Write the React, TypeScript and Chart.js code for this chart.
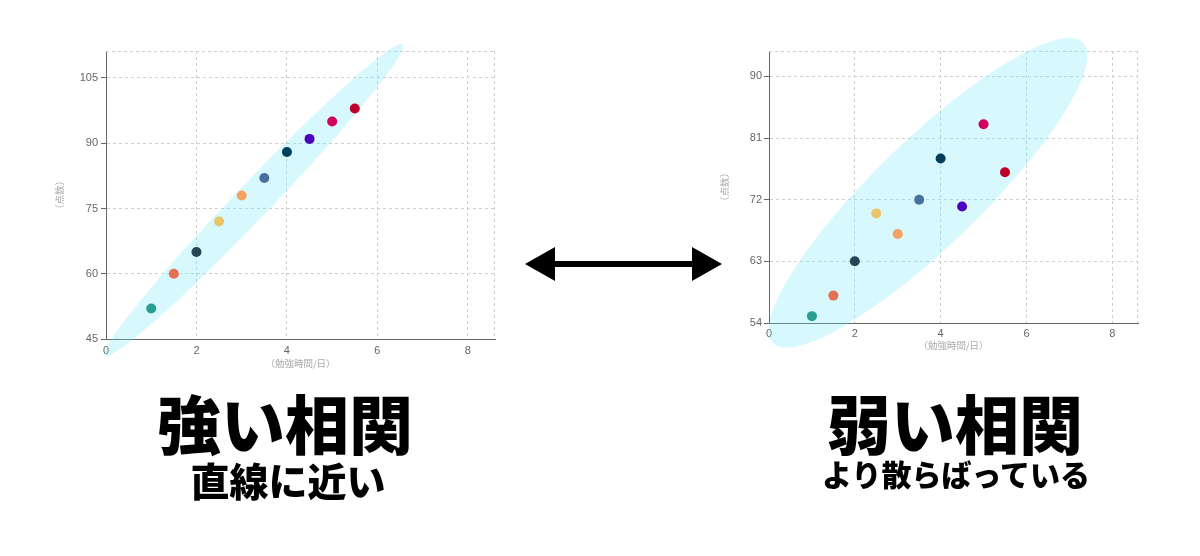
import { useEffect, useRef } from "react"
import { Chart, registerables } from "chart.js"

Chart.register(...registerables)

const hours = [1, 1.5, 2, 2.5, 3, 3.5, 4, 4.5, 5, 5.5]
const strongScores = [52, 60, 65, 72, 78, 82, 88, 91, 95, 98]
const weakScores = [55, 58, 63, 70, 67, 72, 78, 71, 83, 76]
const pointColors = [
  "#2a9d8f",
  "#e76f51",
  "#264653",
  "#e9c46a",
  "#f4a261",
  "#4a70a0",
  "#003f5c",
  "#4c00c0",
  "#d0005e",
  "#bc0028",
]
const hourTicks = [0, 2, 4, 6, 8]
const strongScoreTicks = [45, 60, 75, 90, 105]
const weakScoreTicks = [54, 63, 72, 81, 90]

// ends of the shaded ellipse, in data units (hours, score)
const strongBand = { from: [-0.02, 41.2], to: [6.56, 112.7] }
const weakBand = { from: [0.09, 51.1], to: [7.32, 94.9] }

const CJK = '"Noto Sans CJK JP", "Noto Sans", sans-serif'
const GRID = "#cfcfcf"

const bandPlugin = {
  id: "band",
  beforeDatasetsDraw(chart, _args, opts) {
    const { ctx, chartArea, scales } = chart
    const x = scales.x
    const y = scales.y

    // dashed top / right edge of the plot
    ctx.save()
    ctx.strokeStyle = GRID
    ctx.lineWidth = 1
    ctx.setLineDash([3, 3])
    ctx.beginPath()
    ctx.moveTo(chartArea.left, chartArea.top + 0.5)
    ctx.lineTo(chartArea.right, chartArea.top + 0.5)
    ctx.moveTo(chartArea.right - 0.5, chartArea.top)
    ctx.lineTo(chartArea.right - 0.5, chartArea.bottom)
    ctx.stroke()

    const band = opts.band
    const x1 = x.getPixelForValue(band.from[0])
    const y1 = y.getPixelForValue(band.from[1])
    const x2 = x.getPixelForValue(band.to[0])
    const y2 = y.getPixelForValue(band.to[1])
    const cx = (x1 + x2) / 2
    const cy = (y1 + y2) / 2
    const half = Math.hypot(x2 - x1, y2 - y1) / 2
    const angle = Math.atan2(y2 - y1, x2 - x1)
    ctx.setLineDash([])
    ctx.fillStyle = "rgba(110, 235, 250, 0.28)"
    ctx.beginPath()
    ctx.ellipse(cx, cy, half, opts.halfWidth, angle, 0, Math.PI * 2)
    ctx.fill()
    ctx.restore()
  },
}

function ScatterPanel({ scores, yTicks, yMin, yMax, band, halfWidth, box, yAxisWidth, xAxisHeight, xLabelPad, yLabelPad }) {
  const chartRef = useRef(null)
  const chartInstance = useRef(null)

  useEffect(() => {
    if (chartRef.current) {
      if (chartInstance.current) {
        chartInstance.current.destroy()
      }
      const ctx = chartRef.current.getContext("2d")
      chartInstance.current = new Chart(ctx, {
        type: "scatter",
        data: {
          datasets: [
            {
              data: hours.map((h, i) => ({ x: h, y: scores[i] })),
              backgroundColor: pointColors,
              borderWidth: 0,
              pointRadius: 5,
              pointHoverRadius: 5,
            },
          ],
        },
        plugins: [bandPlugin],
        options: {
          animation: false,
          responsive: true,
          maintainAspectRatio: false,
          layout: { padding: { top: 22, right: 5, bottom: 8, left: 0 } },
          plugins: {
            legend: { display: false },
            tooltip: { enabled: false },
            band: { band, halfWidth },
          },
          scales: {
            x: {
              type: "linear",
              min: 0,
              max: 8.6,
              afterBuildTicks: (axis) => {
                axis.ticks = hourTicks.map((v) => ({ value: v }))
              },
              afterFit: (axis) => {
                axis.height = xAxisHeight
              },
              ticks: {
                padding: xLabelPad,
                color: "#666",
                font: { family: '"Liberation Sans", Arial, sans-serif', size: 11 },
              },
              grid: { color: GRID, drawTicks: false },
              border: { display: true, color: "#666", width: 1, dash: [3, 3] },
              title: {
                display: true,
                text: "（勉強時間/日）",
                color: "#aaa",
                padding: 0,
                font: { family: CJK, size: 9.5 },
              },
            },
            y: {
              type: "linear",
              min: yMin,
              max: yMax,
              afterBuildTicks: (axis) => {
                axis.ticks = yTicks.map((v) => ({ value: v }))
              },
              afterFit: (axis) => {
                axis.width = yAxisWidth
              },
              ticks: {
                padding: yLabelPad,
                color: "#666",
                font: { family: '"Liberation Sans", Arial, sans-serif', size: 11 },
              },
              grid: { color: GRID, tickLength: 5, tickColor: "#666" },
              border: { display: true, color: "#666", width: 1, dash: [3, 3] },
              title: {
                display: true,
                text: "（点数）",
                color: "#aaa",
                padding: 0,
                font: { family: CJK, size: 9.5 },
              },
            },
          },
        },
      })
    }

    return () => {
      if (chartInstance.current) {
        chartInstance.current.destroy()
      }
    }
  }, [scores, yTicks, yMin, yMax, band, halfWidth, yAxisWidth, xAxisHeight, xLabelPad, yLabelPad])

  return (
    <div style={{ position: "absolute", left: box.left, top: box.top, width: box.width, height: box.height }}>
      <canvas ref={chartRef} />
    </div>
  )
}

function Caption({ text, centerX, top, size }) {
  return (
    <div
      style={{
        position: "absolute",
        left: centerX - 250,
        top,
        width: 500,
        textAlign: "center",
        fontFamily: CJK,
        fontWeight: 900,
        fontSize: size,
        lineHeight: 1,
        color: "#000",
        whiteSpace: "nowrap",
      }}
    >
      {text}
    </div>
  )
}

export default function App() {
  return (
    <div style={{ position: "absolute", left: 0, top: 0, width: 1200, height: 556, background: "#fff", overflow: "hidden" }}>
      <ScatterPanel
        scores={strongScores}
        yTicks={strongScoreTicks}
        yMin={45}
        yMax={111.2}
        band={strongBand}
        halfWidth={17.5}
        box={{ left: 54, top: 29, width: 446, height: 348 }}
        yAxisWidth={52}
        xAxisHeight={30}
        xLabelPad={5}
        yLabelPad={3}
      />
      <ScatterPanel
        scores={weakScores}
        yTicks={weakScoreTicks}
        yMin={54}
        yMax={93.7}
        band={weakBand}
        halfWidth={53}
        box={{ left: 719, top: 29, width: 424, height: 330 }}
        yAxisWidth={50}
        xAxisHeight={28}
        xLabelPad={4}
        yLabelPad={2}
      />

      <svg width={1200} height={556} style={{ position: "absolute", left: 0, top: 0, pointerEvents: "none" }}>
        <rect x={553} y={261} width={141} height={6} fill="#000" />
        <polygon points="525,264 555,247 555,281" fill="#000" />
        <polygon points="722,264 692,247 692,281" fill="#000" />
      </svg>

      <Caption text="強い相関" centerX={285} top={389} size={64} />
      <Caption text="直線に近い" centerX={288} top={460} size={39} />
      <Caption text="弱い相関" centerX={955} top={389} size={64} />
      <Caption text="より散らばっている" centerX={956} top={458} size={30} />
    </div>
  )
}
